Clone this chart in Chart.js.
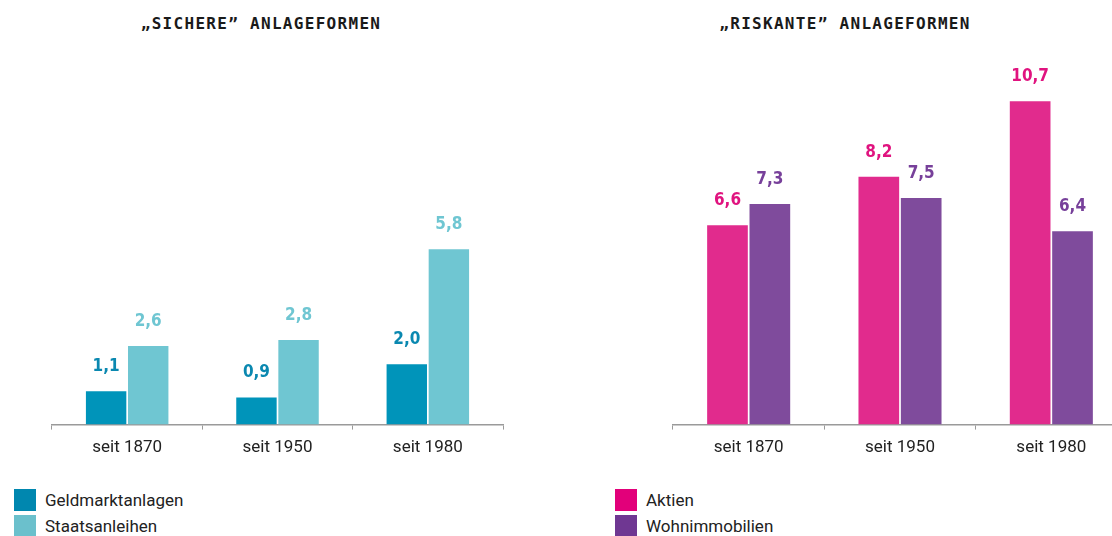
<!DOCTYPE html>
<html>
<head>
<meta charset="utf-8">
<script src="https://cdn.jsdelivr.net/npm/chart.js@4.4.1/dist/chart.umd.min.js"></script>
<style>
  html, body { margin: 0; padding: 0; background: #fff; overflow: hidden; width: 1112px; height: 536px; }
  .title { position: absolute; top: 14px; font-family: "DejaVu Sans Mono", monospace; font-weight: bold;
           font-size: 16px; letter-spacing: 1.3px; color: #1a1a1a; white-space: nowrap; transform: translateX(-50%); }
  .wrap { position: absolute; top: 0; height: 466px; }
  .legend { position: absolute; top: 489px; font-family: Roboto, sans-serif;
            font-size: 17px; color: #222; }
  .legend div { height: 26px; line-height: 22px; white-space: nowrap; }
  .legend span { display: inline-block; width: 22px; height: 22px; vertical-align: top; margin-right: 9px; }
</style>
</head>
<body>
<div class="title" style="left:261px">„SICHERE” ANLAGEFORMEN</div>
<div class="title" style="left:845px">„RISKANTE” ANLAGEFORMEN</div>
<div class="wrap" style="left:0; width:540px"><canvas id="left"></canvas></div>
<div class="wrap" style="left:621px; width:560px"><canvas id="right"></canvas></div>
<div class="legend" style="left:14px">
  <div><span style="background:#0087AF"></span>Geldmarktanlagen</div>
  <div><span style="background:#6BC0CC"></span>Staatsanleihen</div>
</div>
<div class="legend" style="left:615px">
  <div><span style="background:#E2007A"></span>Aktien</div>
  <div><span style="background:#6F3792"></span>Wohnimmobilien</div>
</div>
<script>
// Zeiträume
const periods = ["seit 1870", "seit 1950", "seit 1980"];

// "sichere" Anlageformen
const geldmarkt = [1.1, 0.9, 2.0];
const staatsanleihen = [2.6, 2.8, 5.8];

// "riskante" Anlageformen
const aktien = [6.6, 8.2, 10.7];
const wohnimmobilien = [7.3, 7.5, 6.4];

const yMax = 12;

// Werte über den Balken
const valueLabels = {
  id: "valueLabels",
  afterDatasetsDraw(chart) {
    const ctx = chart.ctx;
    ctx.save();
    ctx.font = "bold 17px 'DejaVu Sans Condensed', sans-serif";
    ctx.textAlign = "center";
    ctx.textBaseline = "bottom";
    chart.data.datasets.forEach((ds, i) => {
      ctx.fillStyle = ds.labelColor;
      chart.getDatasetMeta(i).data.forEach((bar, j) => {
        ctx.fillText(ds.data[j].toFixed(1).replace(".", ","), bar.x, bar.y - 16);
      });
    });
    ctx.restore();
  }
};

function makeChart(id, sets, padLeft, padRight) {
  const ctx = document.getElementById(id).getContext("2d");
  return new Chart(ctx, {
    type: "bar",
    data: {
      labels: periods,
      datasets: sets.map(s => ({
        label: s.label,
        data: s.data,
        backgroundColor: s.color,
        labelColor: s.textColor,
        borderWidth: 0,
        categoryPercentage: 0.56,
        barPercentage: 0.96,
      })),
    },
    options: {
      responsive: true,
      maintainAspectRatio: false,
      animation: false,
      layout: { padding: { top: 62, left: padLeft, right: padRight, bottom: 0 } },
      plugins: { legend: { display: false }, tooltip: { enabled: false } },
      scales: {
        x: {
          grid: { drawOnChartArea: false, tickLength: 5, color: "#9a9a9a", offset: true },
          border: { color: "#9a9a9a", width: 1.5 },
          ticks: {
            color: "#222",
            padding: 8,
            font: { family: "Roboto, sans-serif", size: 17 },
          },
        },
        y: { display: false, min: 0, max: yMax },
      },
    },
    plugins: [valueLabels],
  });
}

makeChart("left", [
  { label: "Geldmarktanlagen", data: geldmarkt, color: "#0094BA", textColor: "#0A88B0" },
  { label: "Staatsanleihen", data: staatsanleihen, color: "#6FC6D2", textColor: "#6FC6D2" },
], 52, 37);

makeChart("right", [
  { label: "Aktien", data: aktien, color: "#E12B8D", textColor: "#E0137F" },
  { label: "Wohnimmobilien", data: wohnimmobilien, color: "#7F4B9C", textColor: "#77409A" },
], 52, 54);
</script>
</body>
</html>
